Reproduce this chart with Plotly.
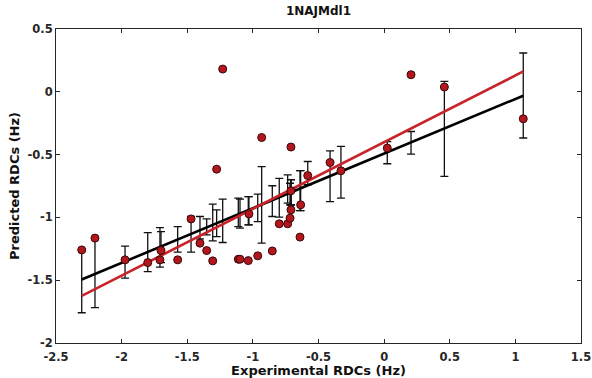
import plotly.graph_objects as go

# Experimental RDCs (x) and predicted RDCs of the single model (red points)
exp_rdc = [-2.304, -2.203, -1.974, -1.801, -1.708, -1.700, -1.573, -1.471, -1.403,
           -1.352, -1.306, -1.276, -1.230, -1.111, -1.098, -1.035, -1.030, -0.963,
           -0.933, -0.852, -0.799, -0.735, -0.717, -0.710, -0.710, -0.710, -0.641,
           -0.636, -0.582, -0.412, -0.329, 0.024, 0.205, 0.459, 1.060]
pred_rdc = [-1.259, -1.165, -1.338, -1.360, -1.338, -1.264, -1.338, -1.012, -1.205,
            -1.264, -1.346, -0.616, 0.181, -1.333, -1.333, -1.344, -0.972, -1.306,
            -0.364, -1.267, -1.051, -1.051, -1.006, -0.440, -0.788, -0.940, -1.157,
            -0.900, -0.667, -0.563, -0.629, -0.448, 0.136, 0.038, -0.215]

# Ensemble spread (black error bars): upper and lower ends
ens_top = [-1.254, -1.161, -1.228, -1.121, -1.081, -1.113, -1.073, -0.993, -0.993,
           -1.011, -0.894, -0.940, -0.855, -0.847, -0.855, -0.834, -0.834, -0.815,
           -0.595, -0.748, -0.689, -0.661, -0.728, -0.700, -0.700, -0.700, -0.627,
           -0.627, -0.555, -0.470, -0.435, -0.396, -0.316, 0.083, 0.309]
ens_bot = [-1.759, -1.718, -1.484, -1.431, -1.396, -1.360, -1.277, -1.277, -1.171,
           -1.139, -1.187, -1.153, -1.200, -1.073, -1.086, -1.060, -1.060, -1.033,
           -1.205, -0.993, -0.998, -0.886, -0.901, -0.900, -0.900, -0.900, -0.946,
           -0.946, -0.740, -0.874, -0.847, -0.573, -0.496, -0.674, -0.368]
ens_mean = [(a + b) / 2 for a, b in zip(ens_top, ens_bot)]
ens_sd = [(a - b) / 2 for a, b in zip(ens_top, ens_bot)]

# Fitted lines (end points)
fit_x = [-2.304, 1.060]
fit_black_y = [-1.494, -0.031]
fit_red_y = [-1.625, 0.162]

x_ticks = [-2.5, -2, -1.5, -1, -0.5, 0, 0.5, 1, 1.5]
x_ticklabels = ["-2.5", "-2", "-1.5", "-1", "-0.5", "0", "0.5", "1", "1.5"]
y_ticks = [-2, -1.5, -1, -0.5, 0, 0.5]
y_ticklabels = ["-2", "-1.5", "-1", "-0.5", "0", "0.5"]

FONT = "DejaVu Sans"
AX = "#262626"

fig = go.Figure()
fig.add_trace(go.Scatter(
    x=exp_rdc, y=ens_mean, mode="markers",
    marker=dict(size=1, color="rgba(0,0,0,0)"),
    error_y=dict(type="data", array=ens_sd, visible=True, color="#111111",
                 thickness=1.3, width=4),
    showlegend=False, hoverinfo="skip"))
fig.add_trace(go.Scatter(x=fit_x, y=fit_black_y, mode="lines",
                         line=dict(color="#000000", width=2.6), showlegend=False))
fig.add_trace(go.Scatter(x=fit_x, y=fit_red_y, mode="lines",
                         line=dict(color="#c8232a", width=2.6), showlegend=False))
fig.add_trace(go.Scatter(
    x=exp_rdc, y=pred_rdc, mode="markers",
    marker=dict(size=8, color="#b3161c", line=dict(color="#3a0808", width=1)),
    showlegend=False))

axis_common = dict(showline=True, linecolor=AX, linewidth=1, mirror="ticks",
                   ticks="inside", ticklen=4, tickcolor=AX, tickwidth=1,
                   showgrid=False, zeroline=False, automargin=False,
                   tickfont=dict(family=FONT, size=11.5, color=AX, weight="bold"))

title_font = dict(family=FONT, size=13, color="#111111", weight="bold")

fig.update_layout(
    width=592, height=378,
    margin=dict(l=56, r=11, t=29, b=35),
    paper_bgcolor="white", plot_bgcolor="white",
    title=dict(text="1NAJMdl1", x=0.5, xanchor="center", xref="paper",
               y=0.972, yanchor="middle",
               font=dict(family=FONT, size=12, color="#111111", weight="bold")),
    xaxis=dict(range=[-2.5, 1.5], tickvals=x_ticks, ticktext=x_ticklabels,
               ticklabelstandoff=3,
               title=dict(text="Experimental RDCs (Hz)", standoff=1, font=title_font),
               **axis_common),
    yaxis=dict(range=[-2, 0.5], tickvals=y_ticks, ticktext=y_ticklabels,
               title=dict(text="Predicted RDCs (Hz)", standoff=4, font=title_font),
               **axis_common),
)

fig.write_html("out.html",
               config={"displayModeBar": False},
               post_script="document.body.style.margin='0';"
                           "document.body.style.overflow='hidden';")
